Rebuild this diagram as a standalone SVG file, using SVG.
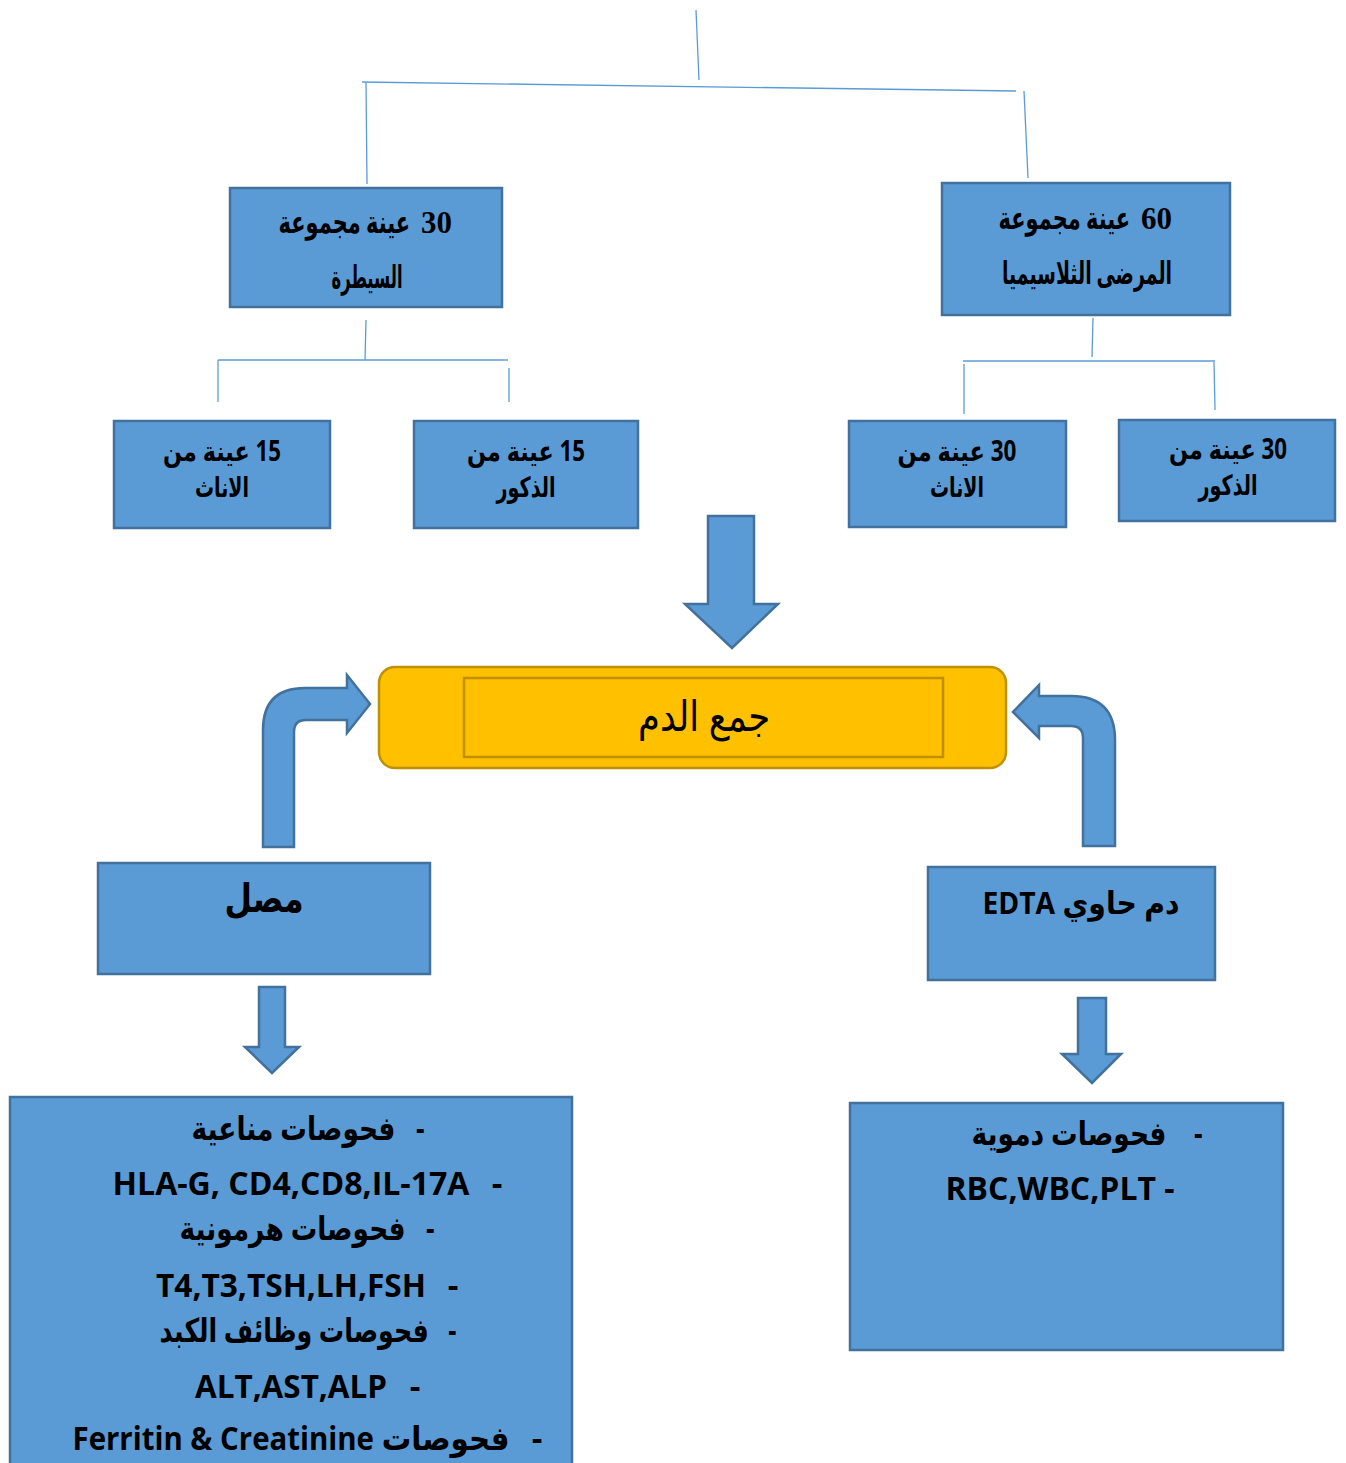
<svg xmlns="http://www.w3.org/2000/svg" width="1346" height="1463" viewBox="0 0 1346 1463">
<style>
.box{fill:#5B9BD5;stroke:#41719C;stroke-width:2.5}
.ln{stroke:#5B9BD5;stroke-width:1.3;fill:none}
.arr{fill:#5B9BD5;stroke:#41719C;stroke-width:2.5;stroke-linejoin:miter}
.tb{font-family:"Liberation Serif","DejaVu Sans",serif;font-weight:bold;font-size:31px;fill:#000}
.sb{font-family:"Open Sans","DejaVu Sans",sans-serif;font-weight:bold;font-size:28px;fill:#000}
.lb{font-family:"Open Sans","DejaVu Sans",sans-serif;font-weight:bold;font-size:33px;fill:#000}
.rg{font-family:"Liberation Sans","DejaVu Sans",sans-serif;font-size:42px;fill:#000}
</style>
<rect width="1346" height="1463" fill="#fff"/>
<g id="connectors">
<path class="ln" d="M696,10 L699,80"/>
<path class="ln" d="M362,82 L1016,91"/>
<path class="ln" d="M366,82 L367,184"/>
<path class="ln" d="M1024,91 L1028,178"/>
<path class="ln" d="M366,320 L365,360"/>
<path class="ln" d="M218,360 L508,360"/>
<path class="ln" d="M218,360 L218,402"/>
<path class="ln" d="M509,368 L509,402"/>
<path class="ln" d="M1093,318 L1092,357"/>
<path class="ln" d="M963,361 L1215,361"/>
<path class="ln" d="M964,364 L964,414"/>
<path class="ln" d="M1214,362 L1215,410"/>
<path class="arr" d="M708,516 L754,516 L754,604 L778,604 L732,648 L685,604 L708,604 Z"/>
<path class="arr" d="M263,847 L263,730 Q263,688 305,688 L347,688 L347,675 L370,704 L347,733 L347,720 L306,720 Q294,720 294,732 L294,847 Z"/>
<path class="arr" d="M1115,846 L1115,740 Q1115,696 1071,696 L1039,696 L1039,685 L1013,712 L1039,738 L1039,726 L1071,726 Q1083,726 1083,738 L1083,846 Z"/>
<path class="arr" d="M259,987 L285,987 L285,1047 L299,1047 L272,1073 L245,1047 L259,1047 Z"/>
<path class="arr" d="M1078,998 L1106,998 L1106,1054 L1121,1054 L1092,1083 L1062,1054 L1078,1054 Z"/>
</g>
<g id="control">
<rect class="box" x="230" y="188" width="272" height="119"/>
<text class="tb" x="452" y="233" text-anchor="end">30</text>
<text class="tb" x="0" y="0" text-anchor="end" direction="ltr" transform="translate(410,233) scale(0.675,1)">عينة مجموعة</text>
<text class="tb" x="367" y="288" text-anchor="middle" direction="rtl" textLength="71" lengthAdjust="spacingAndGlyphs">السيطرة</text>
</g>
<g id="thal">
<rect class="box" x="942" y="183" width="288" height="132"/>
<text class="tb" x="1172" y="229" text-anchor="end">60</text>
<text class="tb" x="0" y="0" text-anchor="end" direction="ltr" transform="translate(1130,229) scale(0.675,1)">عينة مجموعة</text>
<text class="tb" x="1087" y="284" text-anchor="middle" direction="rtl" textLength="170" lengthAdjust="spacingAndGlyphs">المرضى الثلاسيميا</text>
</g>
<g id="c-female">
<rect class="box" x="114" y="421" width="216" height="107"/>
<text class="sb" x="222" y="461" text-anchor="middle" direction="rtl" textLength="118" lengthAdjust="spacingAndGlyphs">15 عينة من</text>
<text class="sb" x="222" y="497" text-anchor="middle" direction="rtl" textLength="54" lengthAdjust="spacingAndGlyphs">الاناث</text>
</g>
<g id="c-male">
<rect class="box" x="414" y="421" width="224" height="107"/>
<text class="sb" x="526" y="461" text-anchor="middle" direction="rtl" textLength="118" lengthAdjust="spacingAndGlyphs">15 عينة من</text>
<text class="sb" x="526" y="497" text-anchor="middle" direction="rtl" textLength="59" lengthAdjust="spacingAndGlyphs">الذكور</text>
</g>
<g id="t-female">
<rect class="box" x="849" y="421" width="217" height="106"/>
<text class="sb" x="957" y="461" text-anchor="middle" direction="rtl" textLength="119" lengthAdjust="spacingAndGlyphs">30 عينة من</text>
<text class="sb" x="957" y="497" text-anchor="middle" direction="rtl" textLength="54" lengthAdjust="spacingAndGlyphs">الاناث</text>
</g>
<g id="t-male">
<rect class="box" x="1119" y="420" width="216" height="101"/>
<text class="sb" x="1228" y="459" text-anchor="middle" direction="rtl" textLength="118" lengthAdjust="spacingAndGlyphs">30 عينة من</text>
<text class="sb" x="1228" y="495" text-anchor="middle" direction="rtl" textLength="59" lengthAdjust="spacingAndGlyphs">الذكور</text>
</g>
<g id="blood">
<rect x="379" y="667" width="627" height="101" rx="16" fill="#FFC000" stroke="#BF9000" stroke-width="2.5"/>
<rect x="464" y="678" width="479" height="79" fill="none" stroke="#BF9000" stroke-width="2.5"/>
<text class="rg" x="704" y="731" text-anchor="middle" direction="rtl" textLength="132" lengthAdjust="spacingAndGlyphs">جمع الدم</text>
</g>
<g id="serum">
<rect class="box" x="98" y="863" width="332" height="111"/>
<text class="lb" x="264" y="912" text-anchor="middle" direction="rtl" style="font-size:40px" textLength="79" lengthAdjust="spacingAndGlyphs">مصل</text>
</g>
<g id="edta">
<rect class="box" x="928" y="867" width="287" height="113"/>
<text class="lb" x="1081" y="914" text-anchor="middle" style="font-size:31px" textLength="197" lengthAdjust="spacingAndGlyphs">EDTA دم حاوي</text>
</g>
<g id="serum-tests">
<rect class="box" x="10" y="1097" width="562" height="390"/>
<text class="lb" x="308" y="1140" text-anchor="middle" direction="rtl" textLength="233" lengthAdjust="spacingAndGlyphs">-&#160;&#160;&#160;فحوصات مناعية</text>
<text class="lb" x="291" y="1195" text-anchor="middle" textLength="357" lengthAdjust="spacingAndGlyphs">HLA-G, CD4,CD8,IL-17A</text>
<text class="lb" x="497" y="1195" text-anchor="middle">-</text>
<text class="lb" x="307" y="1240" text-anchor="middle" direction="rtl" textLength="255" lengthAdjust="spacingAndGlyphs">-&#160;&#160;&#160;فحوصات هرمونية</text>
<text class="lb" x="291" y="1297" text-anchor="middle" textLength="270" lengthAdjust="spacingAndGlyphs">T4,T3,TSH,LH,FSH</text>
<text class="lb" x="453" y="1297" text-anchor="middle">-</text>
<text class="lb" x="308" y="1342" text-anchor="middle" direction="rtl" textLength="297" lengthAdjust="spacingAndGlyphs">-&#160;&#160;&#160;فحوصات وظائف الكبد</text>
<text class="lb" x="291" y="1398" text-anchor="middle" textLength="192" lengthAdjust="spacingAndGlyphs">ALT,AST,ALP</text>
<text class="lb" x="415" y="1398" text-anchor="middle">-</text>
<text class="lb" x="291" y="1450" text-anchor="middle" textLength="437" lengthAdjust="spacingAndGlyphs">Ferritin &amp; Creatinine فحوصات</text>
<text class="lb" x="537" y="1450" text-anchor="middle">-</text>
</g>
<g id="blood-tests">
<rect class="box" x="850" y="1103" width="433" height="247"/>
<text class="lb" x="1087" y="1145" text-anchor="middle" direction="rtl" textLength="231" lengthAdjust="spacingAndGlyphs">-&#160;&#160;&#160;&#160;فحوصات دموية</text>
<text class="lb" x="1060" y="1200" text-anchor="middle" textLength="229" lengthAdjust="spacingAndGlyphs">RBC,WBC,PLT -</text>
</g>
</svg>
